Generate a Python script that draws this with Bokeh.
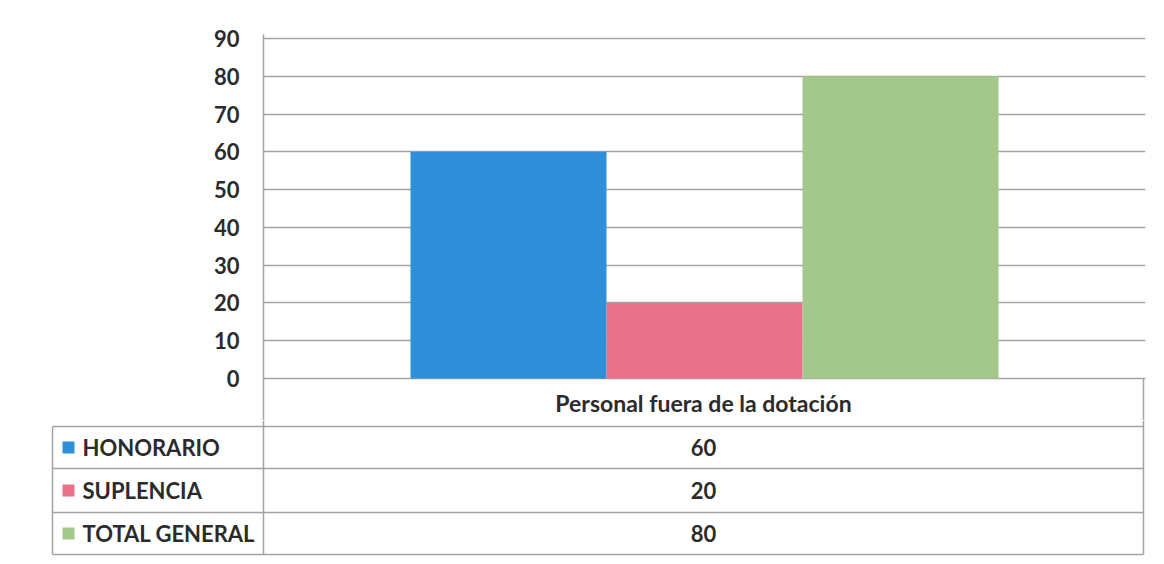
from bokeh.plotting import figure
from bokeh.models import Range1d, FixedTicker, ColumnDataSource
from bokeh.core.properties import value
from bokeh.embed import file_html
from bokeh.resources import INLINE

# ---- data ----
category = "Personal fuera de la dotación"
series = ["HONORARIO", "SUPLENCIA", "TOTAL GENERAL"]
values = [60, 20, 80]
colors = ["#2f8fd8", "#e8718b", "#a4c88c"]
y_ticks = [0, 10, 20, 30, 40, 50, 60, 70, 80, 90]

FONT = "Lato"
TXT = "#2b2b2b"
GRID = "#a3a3a3"

# ---- layout geometry (pixels) ----
W = 1164
FRAME_L, FRAME_R = 263, 1145
TOP_90, BASE_0 = 38, 378
FRAME_T = 34         # frame top a few px above the 90 line so it is not clipped
SPLIT = 420          # where the chart figure ends and the table figure starts
TABLE_R = 1143
X_LAB = 52
ROW_LINES_ABS = [426, 468, 512, 554]

ppu = (BASE_0 - TOP_90) / 90.0   # pixels per value unit
y_min = -(SPLIT - BASE_0) / ppu
y_max = 90 + (TOP_90 - FRAME_T) / ppu

# ---- chart (top, includes the table header row) ----
p1 = figure(width=W, height=SPLIT, output_backend="svg", toolbar_location=None,
            x_range=Range1d(0, 1), y_range=Range1d(y_min, y_max),
            min_border_left=FRAME_L, min_border_right=W - FRAME_R,
            min_border_top=FRAME_T, min_border_bottom=0)
p1.xaxis.visible = False
p1.xgrid.visible = False
p1.outline_line_color = None
p1.background_fill_color = "white"
p1.border_fill_color = "white"

yax = p1.yaxis[0]
yax.ticker = FixedTicker(ticks=y_ticks)
yax.major_tick_line_color = None
yax.minor_tick_line_color = None
yax.axis_line_color = GRID
yax.axis_line_width = 1.5
yax.major_label_standoff = 18
yax.major_label_text_font = FONT
yax.major_label_text_font_style = "bold"
yax.major_label_text_font_size = "22px"
yax.major_label_text_color = TXT

p1.ygrid.ticker = FixedTicker(ticks=y_ticks)
p1.ygrid.grid_line_color = GRID
p1.ygrid.grid_line_width = 1.5

gap = 0.5  # Excel gap width 50%
n = len(series)
bw = (1.0 / (1.0 + gap)) / n
xs = [0.5 + (i - (n - 1) / 2.0) * bw for i in range(n)]
src = ColumnDataSource(dict(x=xs, top=values, color=colors, name=series))
p1.vbar(x="x", top="top", bottom=0, width=bw, fill_color="color",
        line_color=None, source=src)

# header row of the data table (below the zero line)
fw = FRAME_R - FRAME_L
x_tr = (TABLE_R - FRAME_L) / fw
p1.segment(x0=[x_tr], y0=[0], x1=[x_tr], y1=[y_min], line_color=GRID, line_width=1.5)
header_y = -((ROW_LINES_ABS[0] + BASE_0) / 2.0 - BASE_0) / ppu
p1.text(x=[x_tr / 2.0], y=[header_y], text=[category],
        text_font=value(FONT), text_font_style="bold", text_font_size="23px",
        text_color=TXT, text_align="center", text_baseline="middle")

# ---- data table rows (bottom) ----
H2 = 564 - SPLIT
p2 = figure(width=W, height=H2, output_backend="svg", toolbar_location=None,
            x_range=Range1d(0, W), y_range=Range1d(H2, 0),
            x_axis_type=None, y_axis_type=None,
            min_border_left=0, min_border_right=0,
            min_border_top=0, min_border_bottom=0)
p2.grid.visible = False
p2.outline_line_color = None
p2.background_fill_color = "white"
p2.border_fill_color = "white"

row_lines = [r - SPLIT for r in ROW_LINES_ABS]
row_mids = [(row_lines[i] + row_lines[i + 1]) / 2.0 for i in range(n)]
x_center = (FRAME_L + TABLE_R) / 2.0

p2.segment(x0=[X_LAB] * 4, y0=row_lines, x1=[TABLE_R] * 4, y1=row_lines,
           line_color=GRID, line_width=1.5)
p2.segment(x0=[X_LAB, FRAME_L, TABLE_R], y0=[row_lines[0], 0, 0],
           x1=[X_LAB, FRAME_L, TABLE_R], y1=[row_lines[-1]] * 3,
           line_color=GRID, line_width=1.5)

p2.text(x=[x_center] * n, y=row_mids, text=[str(v) for v in values],
        text_font=value(FONT), text_font_style="bold", text_font_size="22px",
        text_color=TXT, text_align="center", text_baseline="middle")

p2.scatter(x=[68] * n, y=row_mids, marker="square", size=12,
           fill_color=colors, line_color=None)
p2.text(x=[82] * n, y=row_mids, text=series,
        text_font=value(FONT), text_font_style="bold", text_font_size="22px",
        text_color=TXT, text_align="left", text_baseline="middle")

open("out.html", "w").write(file_html([p1, p2], INLINE))
